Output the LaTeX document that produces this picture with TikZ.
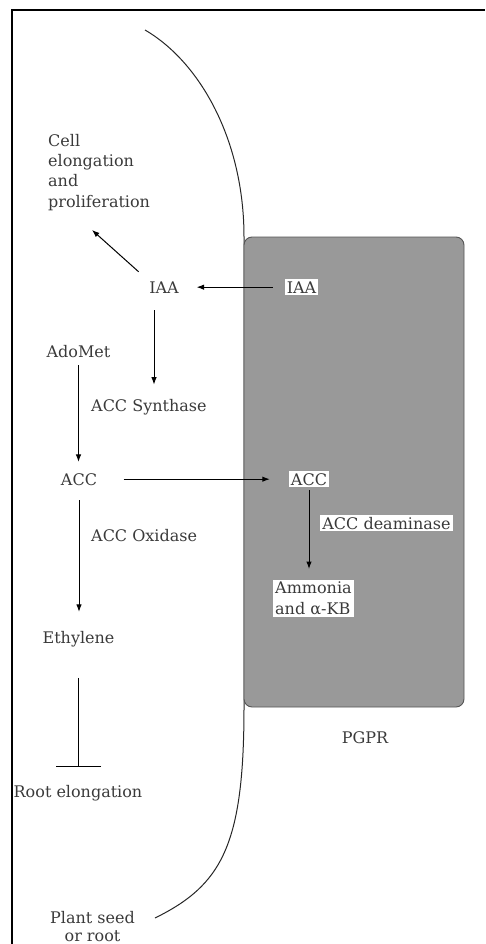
\documentclass[tikz,border=0pt]{standalone}
\usepackage{fontspec}
\setmainfont{DejaVu Serif}
\usetikzlibrary{arrows.meta}
\definecolor{txtc}{HTML}{3A3A3A}
\definecolor{pgprfill}{HTML}{999999}
\definecolor{pgprline}{HTML}{555555}
\begin{document}
\begin{tikzpicture}[x=1pt,y=-1pt,
  lbl/.style={inner sep=0pt, text=txtc, font=\fontsize{16}{20.3}\selectfont},
  wlbl/.style={lbl, fill=white, inner sep=2pt},
  arr/.style={-{Latex[length=7.5pt,width=5.5pt]}, line width=1pt},
  inh/.style={-{Bar[width=45pt]}, line width=1pt},
  curveline/.style={line width=1pt, draw=black!85},
  frameline/.style={line width=2pt}
]
\useasboundingbox (0,0) rectangle (485,944);
% frame
\draw[frameline] (12,944) -- (12,10) -- (485,10);
% cell wall curve
\draw[curveline] (145,30) .. controls (200,62) and (244,140) .. (244,237)
  -- (244,707) .. controls (244,845) and (222,885) .. (155,918);
% PGPR box
\draw[fill=pgprfill, draw=pgprline, line width=0.9pt, rounded corners=8pt] (244,237) rectangle (464,707);

% labels
\node[lbl, anchor=north west, align=left] (cell) at (48,134) {Cell\\elongation\\and\\proliferation};
\node[lbl, anchor=base] (iaaL) at (164,293) {IAA};
\node[wlbl, anchor=base] (iaaR) at (301.5,293) {IAA};
\node[lbl, anchor=base] (adomet) at (78.5,357) {AdoMet};
\node[lbl, anchor=base west] (synth) at (91,411) {ACC Synthase};
\node[lbl, anchor=base] (accL) at (79,485) {ACC};
\node[wlbl, anchor=base] (accR) at (309,485) {ACC};
\node[wlbl, anchor=base] (deam) at (386.5,529) {ACC deaminase};
\node[lbl, anchor=base west] (oxid) at (91,541) {ACC Oxidase};
\node[wlbl, anchor=north west, align=left] (amm) at (273,580) {Ammonia\\and α-KB};
\node[lbl, anchor=base] (eth) at (78.5,643) {Ethylene};
\node[lbl, anchor=base] (root) at (78,797) {Root elongation};
\node[lbl, anchor=base] (pgpr) at (365,743) {PGPR};
\node[lbl, anchor=north, align=center, font=\fontsize{16}{18}\selectfont] (seed) at (92.5,911) {Plant seed\\or root};

% helper coordinates
\coordinate (cellarr) at (92,230);
\coordinate (ax) at (154,0);

% connectors
\draw[arr, shorten <=14pt] (iaaL.north west) -- (cellarr);
\draw[arr, shorten <=12pt, shorten >=17.7pt] (iaaR.west) -- (iaaL.east);
\draw[arr, shorten <=17pt, shorten >=14pt] (iaaL.south -| ax) -- (synth.north -| ax);
\draw[arr, shorten <=8pt, shorten >=11pt] (adomet.south) -- (adomet.south |- accL.north);
\draw[arr, shorten <=26.5pt, shorten >=19pt] (accL.east) -- (accR.west);
\draw[arr, shorten <=3pt, shorten >=11pt] (accR.south) -- (accR.south |- amm.north);
\draw[arr, shorten <=15pt, shorten >=18.8pt] (accL.south) -- (accL.south |- eth.north);
\draw[inh, shorten <=31pt, shorten >=17.8pt] (eth.south) -- (eth.south |- root.north);
\end{tikzpicture}
\end{document}
